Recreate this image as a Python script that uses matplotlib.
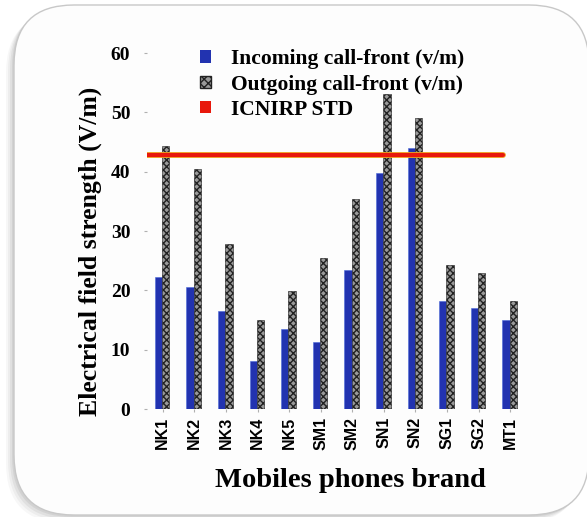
import matplotlib.pyplot as plt
import numpy as np
from matplotlib.patches import FancyBboxPatch, Patch

brands = ['NK1', 'NK2', 'NK3', 'NK4', 'NK5', 'SM1', 'SM2', 'SN1', 'SN2', 'SG1', 'SG2', 'MT1']
incoming = [22.3, 20.6, 16.5, 8.1, 13.5, 11.3, 23.4, 39.8, 44.0, 18.2, 17.0, 15.0]
outgoing = [44.3, 40.5, 27.8, 15.0, 19.9, 25.5, 35.4, 53.1, 49.1, 24.3, 22.9, 18.2]
icnirp_std = 42.8

fig = plt.figure(figsize=(5.87, 5.17), dpi=100)

# card with rounded corners and soft shadow
for i, a in enumerate([0.03, 0.04, 0.05, 0.06]):
    off = 0.08 - i * 0.02
    sh = FancyBboxPatch((0.59 - off, 0.47 - off), 4.85, 4.2,
                        boxstyle="round,pad=0.45,rounding_size=0.6",
                        transform=fig.dpi_scale_trans, facecolor='black',
                        edgecolor='none', alpha=a, zorder=0)
    fig.patches.append(sh)
card = FancyBboxPatch((0.59, 0.47), 4.85, 4.2,
                      boxstyle="round,pad=0.45,rounding_size=0.6",
                      transform=fig.dpi_scale_trans, facecolor='#fdfdfd',
                      edgecolor='#c8c8c8', linewidth=1, zorder=1)
fig.patches.append(card)

ax = fig.add_axes([147 / 587, (517 - 409) / 517, (526 - 147) / 587, (409 - 53) / 517])
ax.set_facecolor('none')
ax.set_zorder(2)

x = np.arange(len(brands))
w = 0.23
ax.bar(x - w / 2 - 0.02, incoming, w, color='#2233b0', edgecolor='#4a6ad8', linewidth=0.4, zorder=2)
ax.bar(x + w / 2 - 0.02, outgoing, w, color='#9a9a9a', edgecolor='#222222',
       hatch='xxxxx', linewidth=0.4, zorder=2)
ax.plot([-0.55, 10.77], [icnirp_std, icnirp_std], color='#f0a020', linewidth=4.2,
        solid_capstyle='round', zorder=3)
ax.plot([-0.55, 10.77], [icnirp_std, icnirp_std], color='#e8180c', linewidth=2.9,
        solid_capstyle='round', zorder=3)

ax.set_xlim(-0.5, 11.5)
ax.set_ylim(0, 60)
ax.set_yticks(range(0, 61, 10))
ax.set_xticks(x)
ax.set_xticklabels(brands, rotation=90, fontfamily='Liberation Sans', fontweight='bold', fontsize=11.5)
for lab in ax.get_yticklabels():
    lab.set_fontfamily('Liberation Serif')
    lab.set_fontweight('bold')
    lab.set_fontsize(14)
ax.tick_params(axis='both', length=2, color='#b0b0b0', width=0.8)
ax.tick_params(axis='y', pad=10)
for s in ax.spines.values():
    s.set_visible(False)

ax.set_ylabel('Electrical field strength (V/m)', fontfamily='Liberation Serif',
              fontweight='bold', fontsize=18.5)
ax.yaxis.set_label_coords(-0.12, 0.444)
ax.set_xlabel('Mobiles phones brand', fontfamily='Liberation Serif',
              fontweight='bold', fontsize=20.5)
ax.xaxis.set_label_coords(0.536, -0.166)

handles = [Patch(facecolor='#2233b0', edgecolor='none'),
           Patch(facecolor='#9a9a9a', edgecolor='#222222', hatch='xxxx'),
           Patch(facecolor='#e8180c', edgecolor='none')]
labels = ['Incoming call-front (v/m)', 'Outgoing call-front (v/m)', 'ICNIRP STD']
ax.legend(handles, labels, loc='upper left', bbox_to_anchor=(0.09, 1.065), frameon=False,
          prop={'family': 'Liberation Serif', 'weight': 'bold', 'size': 15.5},
          handlelength=0.5, handleheight=0.5, handletextpad=0.9, labelspacing=0.25)

fig.savefig('out.png', dpi=100)
